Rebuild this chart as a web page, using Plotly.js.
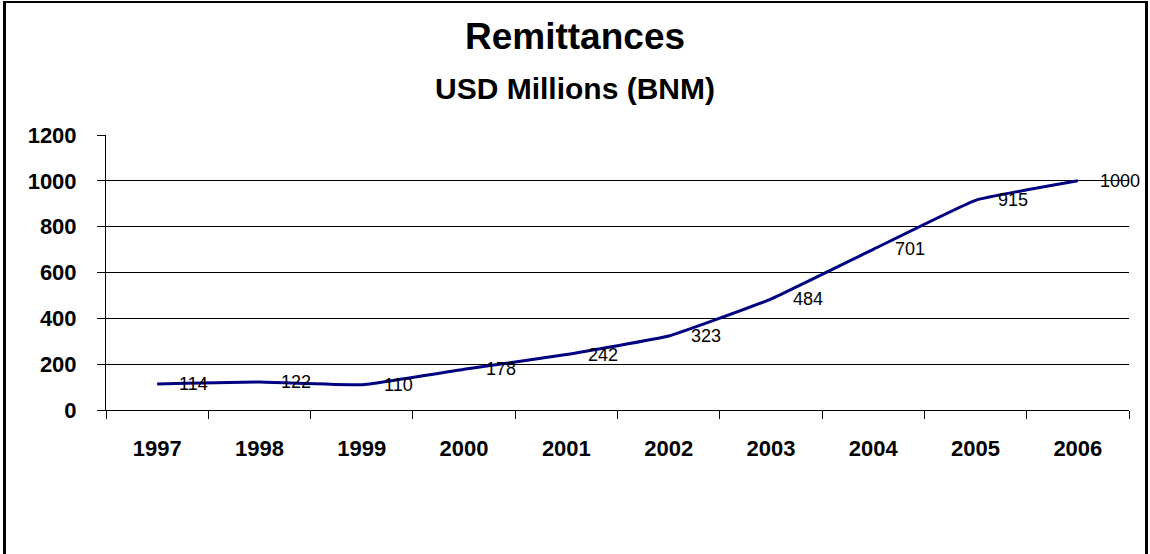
<!DOCTYPE html>
<html>
<head>
<meta charset="utf-8">
<script src="https://cdn.plot.ly/plotly-3.0.1.min.js"></script>
<style>
  html, body { margin: 0; padding: 0; background: #fff; }
  #chart { position: absolute; left: 0; top: 0; width: 1150px; height: 554px; }
  #frame { position: absolute; left: 3px; top: 1px; width: 1139px; height: 600px;
           border-left: 3px solid #000; border-right: 3px solid #000; border-top: 2px solid #000;
           pointer-events: none; }
</style>
</head>
<body>
<div id="chart"></div>
<div id="frame"></div>
<script>
const years = ["1997", "1998", "1999", "2000", "2001", "2002", "2003", "2004", "2005", "2006"];
const remittances = [114, 122, 110, 178, 242, 323, 484, 701, 915, 1000];
const yTicks = [0, 200, 400, 600, 800, 1000, 1200];
const titleText = "Remittances";
const subtitleText = "USD Millions (BNM)";

const FONT = "Arial, 'Liberation Sans', sans-serif";

const trace = {
  x: years,
  y: remittances,
  type: "scatter",
  mode: "lines",
  line: { color: "#000080", width: 3, shape: "spline", smoothing: 0.3 },
  hoverinfo: "skip"
};

// category axis: annotation x given as the category index
const labelAnnotations = years.map((yr, i) => ({
  x: i, y: remittances[i], xref: "x", yref: "y",
  text: String(remittances[i]), showarrow: false,
  xanchor: "left", yanchor: "middle", xshift: 20,
  font: { family: FONT, size: 18, color: "#000" }
}));

const layout = {
  width: 1150, height: 554,
  margin: { l: 106, r: 21, t: 135, b: 144 },
  paper_bgcolor: "#fff", plot_bgcolor: "#fff",
  showlegend: false,
  xaxis: {
    type: "category",
    range: [-0.5, 9.5],
    tickson: "boundaries",
    ticks: "outside", ticklen: 8, tickwidth: 1, tickcolor: "#000",
    showline: true, linecolor: "#000", linewidth: 1,
    showgrid: false, zeroline: false,
    ticklabelstandoff: 19,
    tickfont: { family: FONT, size: 22, color: "#000", weight: "bold" }
  },
  yaxis: {
    range: [0, 1200],
    tickvals: yTicks,
    ticktext: yTicks.map(String),
    ticks: "outside", ticklen: 8, tickwidth: 1, tickcolor: "#000",
    showline: true, linecolor: "#000", linewidth: 1,
    showgrid: true, gridcolor: "#000", gridwidth: 1,
    zeroline: false,
    ticklabelstandoff: 16,
    tickfont: { family: FONT, size: 22, color: "#000", weight: "bold" }
  },
  annotations: [
    { text: "<b>" + titleText + "</b>", xref: "paper", yref: "paper", x: 0.458, y: 1.358,
      xanchor: "center", yanchor: "middle", showarrow: false,
      font: { family: FONT, size: 37, color: "#000" } },
    { text: "<b>" + subtitleText + "</b>", xref: "paper", yref: "paper", x: 0.458, y: 1.17,
      xanchor: "center", yanchor: "middle", showarrow: false,
      font: { family: FONT, size: 30, color: "#000" } }
  ].concat(labelAnnotations)
};

Plotly.newPlot("chart", [trace], layout, { displayModeBar: false, staticPlot: true });
</script>
</body>
</html>
